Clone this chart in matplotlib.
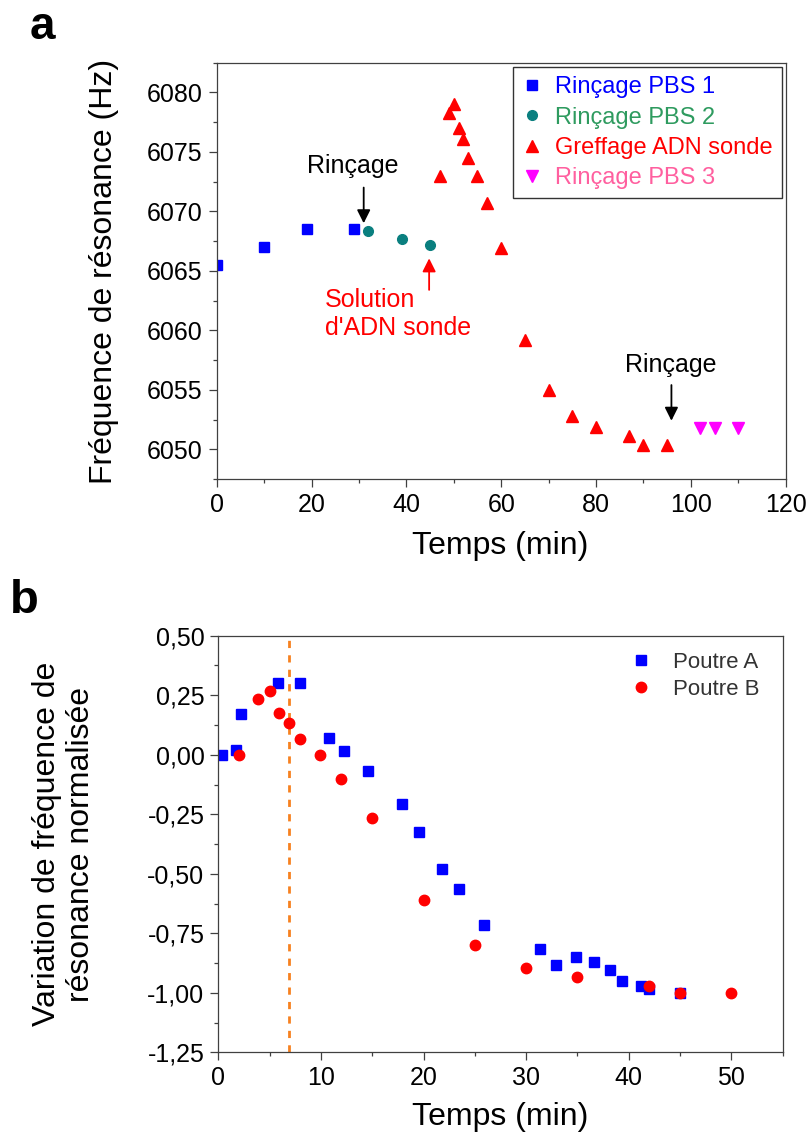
import matplotlib
matplotlib.use("Agg")
import matplotlib.pyplot as plt
from matplotlib.ticker import MultipleLocator, FuncFormatter

plt.rcParams['font.family'] = ['Liberation Sans', 'DejaVu Sans']

# ---- panel a data ----
t_pbs1 = [0, 10, 19, 29]
f_pbs1 = [6065.5, 6067.0, 6068.5, 6068.5]
t_pbs2 = [32, 39, 45]
f_pbs2 = [6068.35, 6067.7, 6067.2]
t_greff = [47, 49, 50, 51, 52, 53, 55, 57, 60, 65, 70, 75, 80, 87, 90, 95]
f_greff = [6073.0, 6078.3, 6079.0, 6077.0, 6076.1, 6074.5, 6073.0, 6070.7,
           6066.9, 6059.2, 6055.0, 6052.8, 6051.9, 6051.1, 6050.4, 6050.4]
t_pbs3 = [102, 105, 110]
f_pbs3 = [6051.8, 6051.8, 6051.8]
labels_a = ['Rinçage PBS 1', 'Rinçage PBS 2', 'Greffage ADN sonde', 'Rinçage PBS 3']

# ---- panel b data ----
t_a = [0.4, 1.7, 2.2, 5.8, 8.0, 10.8, 12.2, 14.6, 17.9, 19.6, 21.8, 23.5, 25.9,
       31.3, 32.9, 34.9, 36.6, 38.2, 39.3, 41.2, 42.0, 45.0]
y_a = [0.0, 0.02, 0.17, 0.30, 0.30, 0.07, 0.015, -0.07, -0.205, -0.325, -0.48,
       -0.565, -0.715, -0.815, -0.885, -0.85, -0.87, -0.905, -0.95, -0.97, -0.985, -1.0]
t_b = [2.0, 3.9, 5.0, 5.9, 6.9, 8.0, 9.9, 12.0, 15.0, 20.0, 25.0, 30.0, 35.0, 42.0, 45.0, 50.0]
y_b = [0.0, 0.235, 0.267, 0.176, 0.134, 0.067, 0.0, -0.10, -0.267, -0.61, -0.80,
       -0.896, -0.935, -0.973, -1.0, -1.0]
t_injection = 6.85

spine_col = '#404040'
fig = plt.figure(figsize=(8.08, 11.33), dpi=100)


def style_axes(ax):
    for s in ax.spines.values():
        s.set_linewidth(0.9)
        s.set_color(spine_col)
    ax.tick_params(which='major', direction='out', length=6, width=0.9,
                   color=spine_col, labelsize=18, pad=4)
    ax.tick_params(which='minor', direction='out', length=3.2, width=0.9, color=spine_col)
    ax.tick_params(top=False, right=False, which='both')


# ================= panel a =================
ax1 = fig.add_axes([0.2682, 0.5772, 0.7042, 0.3675])
ax1.plot(t_pbs1, f_pbs1, 's', color='#0000ff', ms=7, label=labels_a[0])
ax1.plot(t_pbs2, f_pbs2, 'o', color='#0a7f7f', ms=7, label=labels_a[1])
ax1.plot(t_greff, f_greff, '^', color='#ff0000', ms=9, label=labels_a[2])
ax1.plot(t_pbs3, f_pbs3, 'v', color='#ff00ff', ms=9, label=labels_a[3])
ax1.set_xlim(0, 120)
ax1.set_ylim(6047.5, 6082.5)
ax1.xaxis.set_major_locator(MultipleLocator(20))
ax1.xaxis.set_minor_locator(MultipleLocator(10))
ax1.yaxis.set_major_locator(MultipleLocator(5))
ax1.yaxis.set_minor_locator(MultipleLocator(2.5))
style_axes(ax1)

leg = ax1.legend(loc='upper right', bbox_to_anchor=(0.994, 0.990), fontsize=17,
                 frameon=True, fancybox=False, edgecolor='black', borderpad=0.4,
                 handlelength=0.8, handletextpad=0.6, labelspacing=0.35,
                 borderaxespad=0)
leg.get_frame().set_linewidth(1.0)
for txt, c in zip(leg.get_texts(), ['#0000ff', '#2e9b5f', '#ff0000', '#ff5f9f']):
    txt.set_color(c)

arrow_kw = dict(arrowstyle='-|>', lw=1.3, mutation_scale=20, shrinkA=0, shrinkB=0)
ax1.text(28.7, 6073.8, 'Rinçage', fontsize=18, ha='center', va='center', color='black')
ax1.annotate('', xy=(31.0, 6069.0), xytext=(31.0, 6072.0),
             arrowprops=dict(color='black', **arrow_kw))
ax1.text(22.8, 6061.4, "Solution\nd'ADN sonde", fontsize=18, ha='left', va='center',
         color='#ff0000', multialignment='left')
ax1.annotate('', xy=(44.8, 6066.05), xytext=(44.8, 6063.4),
             arrowprops=dict(color='#ff0000', **arrow_kw))
ax1.text(95.8, 6057.1, 'Rinçage', fontsize=18, ha='center', va='center', color='black')
ax1.annotate('', xy=(95.9, 6052.4), xytext=(95.9, 6055.4),
             arrowprops=dict(color='black', **arrow_kw))

fig.text(104 / 808, 1 - 271 / 1133, 'Fréquence de résonance (Hz)', fontsize=23,
         rotation=90, ha='center', va='center')
fig.text(500 / 808, 1 - 554 / 1133, 'Temps (min)', fontsize=23, ha='center', va='baseline')
fig.text(42 / 808, 1 - 27 / 1133, 'a', fontsize=33, fontweight='bold', ha='center', va='center')

# ================= panel b =================
ax2 = fig.add_axes([0.2702, 0.0712, 0.6985, 0.3677])
ax2.axvline(t_injection, color='#f7811f', lw=2, linestyle=(0, (2.6, 2.6)))
ax2.plot(t_a, y_a, 's', color='#0000ff', ms=7, label='Poutre A')
ax2.plot(t_b, y_b, 'o', color='#ff0000', ms=7.5, label='Poutre B')
ax2.set_xlim(0, 55)
ax2.set_ylim(-1.25, 0.5)
ax2.xaxis.set_major_locator(MultipleLocator(10))
ax2.xaxis.set_minor_locator(MultipleLocator(5))
ax2.yaxis.set_major_locator(MultipleLocator(0.25))
ax2.yaxis.set_minor_locator(MultipleLocator(0.125))
ax2.yaxis.set_major_formatter(FuncFormatter(lambda v, p: f"{v:.2f}".replace('.', ',')))
style_axes(ax2)

leg2 = ax2.legend(loc='upper left', bbox_to_anchor=(0.7135, 0.9825), fontsize=16,
                  frameon=False, borderpad=0.4, handlelength=1.0, handletextpad=0.94,
                  labelspacing=0.26, borderaxespad=0)
for txt in leg2.get_texts():
    txt.set_color('#333333')

fig.text(64 / 808, 1 - 844 / 1133, 'Variation de fréquence de\nrésonance normalisée',
         fontsize=23, rotation=90, ha='center', va='center', multialignment='center')
fig.text(500 / 808, 1 - 1125 / 1133, 'Temps (min)', fontsize=23, ha='center', va='baseline')
fig.text(24 / 808, 1 - 601 / 1133, 'b', fontsize=34, fontweight='bold', ha='center', va='center')

fig.savefig('out.png', dpi=100)
